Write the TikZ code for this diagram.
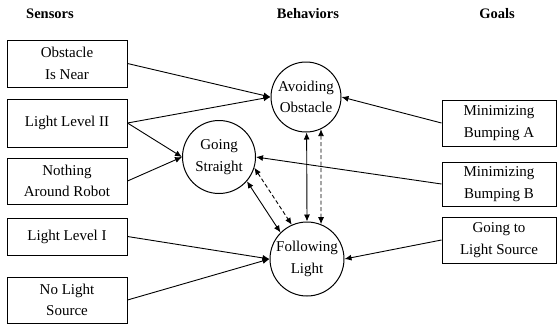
\documentclass[tikz,border=0pt]{standalone}
\usepackage{fontspec}
\setmainfont{Liberation Serif}
\usetikzlibrary{arrows.meta}
\begin{document}
\begin{tikzpicture}[x=1pt,y=-1pt,
  txt/.style={font=\fontsize{15}{21.5}\selectfont, align=center},
  hdr/.style={font=\fontsize{14.5}{16}\selectfont\bfseries},
  sbox/.style={txt, draw, line width=1pt, minimum width=120pt, inner sep=0pt},
  gbox/.style={txt, draw, line width=1pt, minimum width=114pt, inner sep=0pt},
  beh/.style={txt, draw, circle, line width=1pt, inner sep=0pt},
  arr/.style={line width=0.9pt, -{Latex[length=7pt,width=6pt]}},
  darr/.style={line width=0.9pt, {Latex[length=7pt,width=6pt]}-{Latex[length=7pt,width=6pt]}},
  ddarr/.style={darr, dash pattern=on 4pt off 2.5pt}
]
\useasboundingbox (0,0) rectangle (557,325);
% headers
\node[hdr] (hs) at (50,14) {Sensors};
\node[hdr] (hb) at (308,14) {Behaviors};
\node[hdr] (hg) at (497,14) {Goals};
% sensors
\node[sbox, minimum height=47pt] (s1) at (67,63.5) {Obstacle\\Is Near};
\node[sbox, minimum height=48pt] (s2) at (67,123) {Light Level II};
\node[sbox, minimum height=46pt] (s3) at (67,181) {Nothing\\Around Robot};
\node[sbox, minimum height=37pt] (s4) at (67,236.5) {Light Level I};
\node[sbox, minimum height=46pt] (s5) at (67,300) {No Light\\Source};
% goals
\node[gbox, minimum height=46pt] (g1) at (499,123) {Minimizing\\Bumping A};
\node[gbox, minimum height=44pt] (g2) at (499,184) {Minimizing\\Bumping B};
\node[gbox, minimum height=46pt] (g3) at (499,240) {Going to\\Light Source};
% behaviors
\node[beh, minimum size=70pt] (ao) at (306,97) {Avoiding\\Obstacle};
\node[beh, minimum size=73pt] (gs) at (219,157) {Going\\Straight};
\node[beh, minimum size=74pt] (fl) at (307,259) {Following\\Light};
% sensor arrows
\draw[arr] (s1.east) -- (ao.west);
\draw[arr] (s2.east) -- (ao.west);
\draw[arr] (s2.east) -- (gs.west);
\draw[arr] (s3.east) -- (gs.west);
\draw[arr] (s4.east) -- (fl.west);
\draw[arr] (s5.east) -- (fl.west);
% goal arrows
\draw[arr] (g1.west) -- (ao.east);
\draw[arr] (g2.west) -- (gs.east);
\draw[arr] (g3.west) -- (fl.east);
% behavior links
\draw[darr] (ao.-89) -- (fl.90);
\draw[ddarr] (ao.-65) -- (fl.68);
\draw[darr] (gs.-41) -- (fl.135);
\draw[ddarr] (gs.-17) -- (fl.114);
\end{tikzpicture}
\end{document}
